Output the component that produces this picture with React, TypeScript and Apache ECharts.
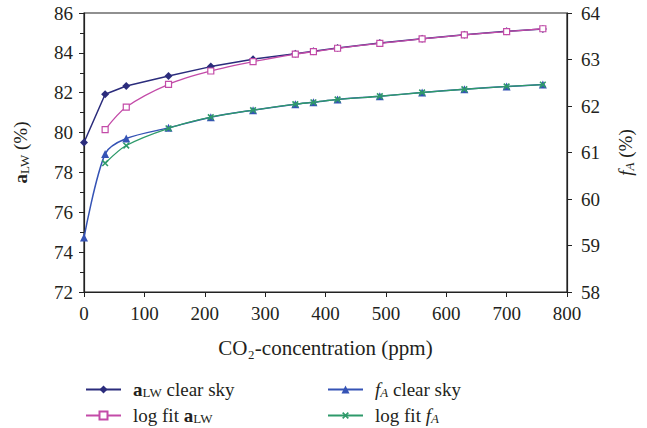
import React, { useEffect, useRef } from "react";
import * as echarts from "echarts";

const co2 = [0, 35, 70, 140, 210, 280, 350, 380, 420, 490, 560, 630, 700, 760];
const aLW = [79.5, 81.92, 82.34, 82.84, 83.31, 83.68, 83.96, 84.08, 84.24, 84.49, 84.71, 84.91, 85.08, 85.2];
const aLWFit = [null, 80.15, 81.28, 82.42, 83.09, 83.56, 83.94, 84.06, 84.23, 84.48, 84.7, 84.9, 85.07, 85.21];
const fA = [59.17, 60.97, 61.3, 61.53, 61.76, 61.91, 62.04, 62.08, 62.14, 62.21, 62.29, 62.36, 62.42, 62.46];
const fAFit = [null, 60.77, 61.15, 61.52, 61.76, 61.91, 62.04, 62.08, 62.14, 62.21, 62.29, 62.36, 62.42, 62.46];

const FONT = "'Liberation Serif', 'DejaVu Serif', serif";
const TXT = "#231F20";
const FS = 19;

const pairs = (ys: (number | null)[]) =>
  co2.map((x, i) => [x, ys[i]]).filter((p) => p[1] !== null);

const makeRich = (fs: number, pad: number) => ({
  b: { fontWeight: "bold", fontSize: fs, fontFamily: FONT, color: TXT },
  i: { fontStyle: "italic", fontSize: fs, fontFamily: FONT, color: TXT },
  n: { fontSize: fs, fontFamily: FONT, color: TXT },
  sub: { fontSize: 13, fontFamily: FONT, color: TXT, verticalAlign: "bottom", padding: [pad, 0, 0, 0] },
  isub: { fontSize: 13, fontStyle: "italic", fontFamily: FONT, color: TXT, verticalAlign: "bottom", padding: [pad, 0, 0, 0] },
});

const legendNames: Record<string, string> = {
  "aLW clear sky": "{b|a}{sub|LW}{n| clear sky}",
  "log fit aLW": "{n|log fit }{b|a}{sub|LW}",
  "fA clear sky": "{i|f}{isub|A}{n| clear sky}",
  "log fit fA": "{n|log fit }{i|f}{isub|A}",
};

export default function App() {
  const ref = useRef<HTMLDivElement>(null);
  useEffect(() => {
    if (!ref.current) return;
    const chart = echarts.init(ref.current, undefined, { renderer: "svg" });
    const leg = (name: string, left: number, top: number) => ({
      left,
      top,
      itemWidth: 35,
      itemHeight: 10,
      data: [name],
      formatter: (n: string) => legendNames[n] || n,
      textStyle: { rich: makeRich(19, 6), padding: [0, 0, 0, 7] },
    });
    chart.setOption({
      animation: false,
      backgroundColor: "#fff",
      textStyle: { fontFamily: FONT },
      grid: {
        left: 84,
        right: 80,
        top: 13,
        bottom: 136,
        show: true,
        borderColor: "#222",
        borderWidth: 1.2,
      },
      legend: [
        leg("aLW clear sky", 80, 375),
        leg("log fit aLW", 80, 401),
        leg("fA clear sky", 322, 375),
        leg("log fit fA", 322, 401),
      ],
      xAxis: {
        type: "value",
        min: 0,
        max: 800,
        interval: 100,
        name: "CO₂-concentration (ppm)",
        nameLocation: "middle",
        nameGap: 45,
        nameTextStyle: { fontSize: 21, color: TXT, fontFamily: FONT },
        axisLine: { lineStyle: { color: "#222", width: 1.2 } },
        axisTick: { show: true, length: 5, lineStyle: { color: "#222" } },
        axisLabel: { fontSize: FS, color: TXT, fontFamily: FONT, margin: 12 },
        splitLine: { show: false },
      },
      yAxis: [
        {
          type: "value",
          min: 72,
          max: 86,
          interval: 2,
          name: "{b|a}{sub|LW}{n| (%)}",
          nameLocation: "middle",
          nameRotate: 90,
          nameGap: 53,
          nameTextStyle: { rich: makeRich(FS, 9) },
          axisLine: { show: true, lineStyle: { color: "#222", width: 1.2 } },
          axisTick: { show: true, length: 5, lineStyle: { color: "#222" } },
          minorTick: { show: true, splitNumber: 2, length: 4, lineStyle: { color: "#222" } },
          axisLabel: { fontSize: FS, color: TXT, fontFamily: FONT, margin: 11 },
          splitLine: { show: false },
        },
        {
          type: "value",
          min: 58,
          max: 64,
          interval: 1,
          position: "right",
          name: "{i|f}{isub|A}{n| (%)}",
          nameLocation: "middle",
          nameRotate: 90,
          nameGap: 47,
          nameTextStyle: { rich: makeRich(FS, 9) },
          axisLine: { show: true, lineStyle: { color: "#222", width: 1.2 } },
          axisTick: { show: true, length: 5, lineStyle: { color: "#222" } },
          axisLabel: { fontSize: FS, color: TXT, fontFamily: FONT, margin: 14 },
          splitLine: { show: false },
        },
      ],
      series: [
        {
          name: "aLW clear sky",
          type: "line",
          yAxisIndex: 0,
          data: pairs(aLW),
          symbol: "diamond",
          symbolSize: 8,
          lineStyle: { color: "#2B2C7C", width: 1.5 },
          itemStyle: { color: "#2B2C7C" },
          z: 3,
        },
        {
          name: "log fit aLW",
          type: "line",
          yAxisIndex: 0,
          data: pairs(aLWFit),
          smooth: 0.3,
          symbol: "rect",
          symbolSize: 6,
          lineStyle: { color: "#C34BA8", width: 1.3 },
          itemStyle: { color: "#fff", borderColor: "#C34BA8", borderWidth: 1.2 },
          z: 4,
        },
        {
          name: "fA clear sky",
          type: "line",
          yAxisIndex: 1,
          data: pairs(fA),
          smooth: 0.3,
          symbol: "triangle",
          symbolSize: 8,
          lineStyle: { color: "#3553B5", width: 1.5 },
          itemStyle: { color: "#3553B5" },
          z: 3,
        },
        {
          name: "log fit fA",
          type: "line",
          yAxisIndex: 1,
          data: pairs(fAFit),
          smooth: 0.3,
          symbol: "path://M4,0H6V4H10V6H6V10H4V6H0V4H4Z",
          symbolRotate: 45,
          symbolSize: 8,
          lineStyle: { color: "#2E9A6A", width: 1.3 },
          itemStyle: { color: "#2E9A6A" },
          z: 4,
        },
      ],
    });
    return () => chart.dispose();
  }, []);
  return <div ref={ref} style={{ width: 647, height: 428, position: "absolute", left: 0, top: 0 }} />;
}
